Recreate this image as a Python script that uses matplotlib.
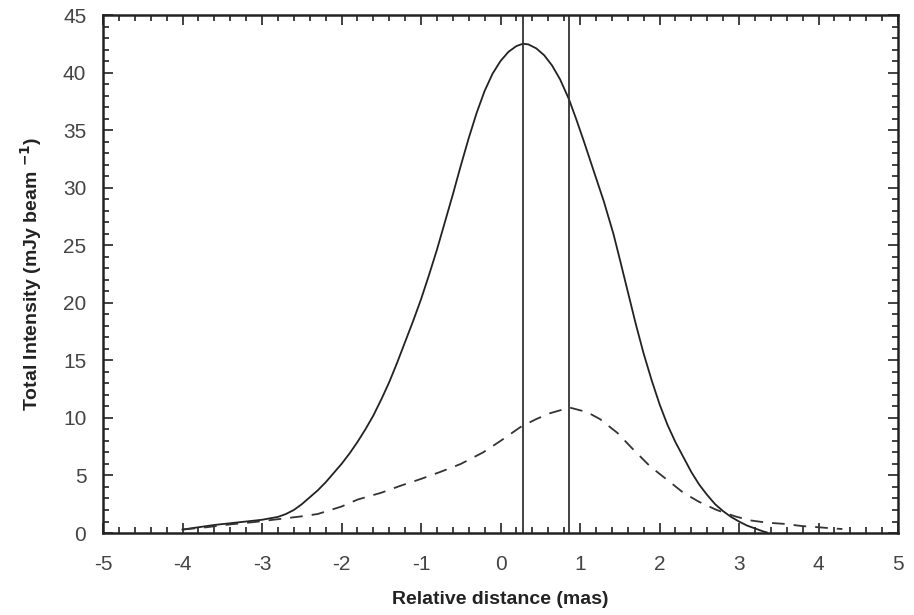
import numpy as np
import matplotlib
matplotlib.use("Agg")
import matplotlib.pyplot as plt
from matplotlib.ticker import MultipleLocator

# ---------- data ----------
total_x = [-4.0, -3.8, -3.6, -3.4, -3.2, -3.0, -2.8, -2.7, -2.6, -2.5, -2.4,
           -2.3, -2.2, -2.1, -2.0, -1.9, -1.8, -1.7, -1.6, -1.5, -1.4, -1.3,
           -1.2, -1.1, -1.0, -0.9, -0.8, -0.7, -0.6, -0.5, -0.4, -0.3, -0.2,
           -0.1, 0.0, 0.1, 0.2, 0.28, 0.35, 0.45, 0.55, 0.65, 0.75, 0.86,
           0.95, 1.05, 1.17, 1.3, 1.42, 1.5, 1.6, 1.7, 1.8, 1.9, 2.0, 2.1,
           2.2, 2.3, 2.4, 2.5, 2.6, 2.7, 2.8, 2.9, 3.0, 3.1, 3.2, 3.3, 3.35]
total_y = [0.3, 0.5, 0.7, 0.85, 1.0, 1.15, 1.4, 1.65, 2.0, 2.5, 3.1,
           3.7, 4.4, 5.2, 6.0, 6.9, 7.9, 9.0, 10.2, 11.6, 13.1, 14.8,
           16.6, 18.4, 20.3, 22.4, 24.6, 27.0, 29.4, 31.9, 34.3, 36.5, 38.4,
           39.9, 41.0, 41.8, 42.3, 42.5, 42.45, 42.1, 41.5, 40.6, 39.4, 37.7,
           36.0, 34.0, 31.5, 28.8, 26.0, 23.8, 21.0, 18.2, 15.6, 13.3, 11.2, 9.4,
           7.9, 6.6, 5.3, 4.2, 3.3, 2.5, 1.9, 1.4, 1.0, 0.65, 0.4, 0.15, 0.05]

pol_x = [-4.0, -3.7, -3.4, -3.1, -2.8, -2.5, -2.3, -2.0, -1.8, -1.5, -1.26,
         -1.0, -0.76, -0.5, -0.22, 0.0, 0.25, 0.45, 0.62, 0.87, 1.09, 1.25,
         1.47, 1.65, 1.88, 2.1, 2.3, 2.5, 2.72, 2.95, 3.14, 3.35, 3.56, 3.8,
         4.0, 4.18, 4.3]
pol_y = [0.3, 0.5, 0.75, 0.95, 1.2, 1.45, 1.65, 2.3, 2.9, 3.5, 4.1,
         4.7, 5.3, 6.0, 7.0, 8.0, 9.2, 9.9, 10.4, 10.9, 10.5, 9.9,
         8.7, 7.4, 5.8, 4.6, 3.5, 2.7, 2.0, 1.45, 1.1, 0.9, 0.8, 0.6,
         0.5, 0.4, 0.35]

marker_x = [0.28, 0.86]

# ---------- plot ----------
plt.rcParams["font.family"] = ["Liberation Sans", "DejaVu Sans"]
plt.rcParams["axes.unicode_minus"] = False

fig = plt.figure(figsize=(9.14, 6.15), dpi=100)
ax = fig.add_axes([0.1127, 0.1333, 0.8698, 0.8423])

ax.plot(total_x, total_y, color="#222222", linewidth=1.3)
ax.plot(pol_x, pol_y, color="#333333", linewidth=1.3, linestyle=(0, (7, 5)))
for xv in marker_x:
    ax.axvline(xv, color="#333333", linewidth=1.3)

ax.set_xlim(-5, 5)
ax.set_ylim(0, 45)
ax.xaxis.set_major_locator(MultipleLocator(1))
ax.xaxis.set_minor_locator(MultipleLocator(0.2))
ax.yaxis.set_major_locator(MultipleLocator(5))
ax.yaxis.set_minor_locator(MultipleLocator(1))
ax.tick_params(which="both", direction="in", top=True, right=True,
               color="#222222", width=1.2)
ax.tick_params(which="major", length=7, labelsize=15, labelcolor="#444444")
ax.tick_params(axis="x", which="major", pad=16)
ax.tick_params(axis="y", which="major", pad=12)
ax.tick_params(which="minor", length=4)
for s in ax.spines.values():
    s.set_linewidth(1.8)
    s.set_color("#222222")

ax.set_xlabel("Relative distance (mas)", fontsize=14, fontweight="bold",
              color="#222222", labelpad=12)
ax.set_ylabel(r"Total Intensity (mJy beam $^{\mathbf{-1}}$)", fontsize=14,
              fontweight="bold", color="#222222", labelpad=14)

fig.savefig("out.png", dpi=100)
